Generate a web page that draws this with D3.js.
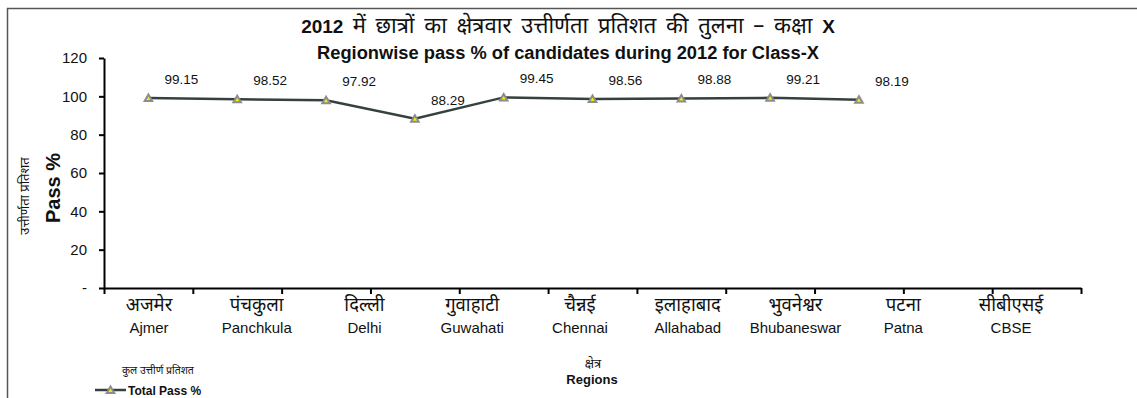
<!DOCTYPE html>
<html>
<head>
<meta charset="utf-8">
<script src="https://cdn.jsdelivr.net/npm/d3@7"></script>
<style>
  body { margin: 0; background: #fff; }
  svg text { font-family: Arial, "Liberation Sans", sans-serif; fill: #111; }
  .hi { font-family: "Noto Sans Devanagari", "Noto Serif Devanagari", "Lohit Devanagari", "FreeSerif", "Noto Sans", serif; }
</style>
</head>
<body>
<div id="plot"></div>
<script>
// region names, hindi and english
const regionsHi = ['अजमेर', 'पंचकुला', 'दिल्ली', 'गुवाहाटी', 'चैन्नई', 'इलाहाबाद', 'भुवनेश्वर', 'पटना', 'सीबीएसई'];
const regionsEn = ['Ajmer', 'Panchkula', 'Delhi', 'Guwahati', 'Chennai', 'Allahabad', 'Bhubaneswar', 'Patna', 'CBSE'];
// total pass % per region
const passPct = [99.15, 98.52, 97.92, 88.29, 99.45, 98.56, 98.88, 99.21, 98.19];
const yTicks = [0, 20, 40, 60, 80, 100, 120];
// the category axis of the original has 11 slots, the last two empty
const slotCount = 11;

const width = 1137, height = 398;

let svg = d3.select('#plot').append('svg')
    .attr('width', width)
    .attr('height', height);

// outer frame
svg.append('rect')
    .attr('x', 7.5).attr('y', 8.5)
    .attr('width', 1140).attr('height', 400)
    .attr('fill', 'none')
    .attr('stroke', '#555')
    .attr('stroke-width', 1.5);

// scales
let x = d3.scaleBand()
    .domain(d3.range(slotCount))
    .range([104, 1081]);
let y = d3.scaleLinear()
    .domain([0, 120])
    .range([288, 58]);
// the region labels sit on their own spacing
let xLab = d3.scalePoint()
    .domain(regionsEn)
    .range([149, 1011]);

// y axis
let yAxis = d3.axisLeft(y)
    .tickValues(yTicks)
    .tickSize(5)
    .tickSizeOuter(0)
    .tickPadding(12)
    .tickFormat(d => d === 0 ? '-' : d);
let gy = svg.append('g')
    .attr('transform', 'translate(104,0)')
    .call(yAxis);
gy.select('.domain').attr('stroke', '#000').attr('stroke-width', 2);
gy.selectAll('.tick line').attr('stroke', '#000').attr('stroke-width', 2);
gy.selectAll('.tick text').attr('font-size', 15).attr('fill', '#111')
    .attr('font-family', 'Arial, "Liberation Sans", sans-serif');

// x axis: ticks at the slot edges, no tick text
let xAxis = d3.axisBottom(d3.scaleLinear().domain([0, slotCount]).range([104, 1081]))
    .tickValues(d3.range(slotCount + 1))
    .tickSize(6)
    .tickSizeOuter(0)
    .tickFormat('');
let gx = svg.append('g')
    .attr('transform', 'translate(0,288)')
    .call(xAxis);
gx.select('.domain').attr('stroke', '#000').attr('stroke-width', 2);
gx.selectAll('.tick line').attr('stroke', '#000').attr('stroke-width', 2);

// region labels, two lines
let lab = svg.append('g').selectAll('g')
    .data(regionsEn)
    .enter().append('g')
    .attr('transform', d => `translate(${xLab(d)},0)`);
lab.append('text')
    .attr('class', 'hi')
    .attr('y', 311)
    .attr('text-anchor', 'middle')
    .attr('font-size', 18.5)
    .text((d, i) => regionsHi[i]);
lab.append('text')
    .attr('y', 333)
    .attr('text-anchor', 'middle')
    .attr('font-size', 15)
    .text(d => d);

// the line
let data = passPct.map((v, i) => ({ i: i, v: v }));
let cx = d => x(d.i) + x.bandwidth() / 2;
let line = d3.line()
    .x(cx)
    .y(d => y(d.v));
svg.append('path')
    .datum(data)
    .attr('d', line)
    .attr('fill', 'none')
    .attr('stroke', '#354040')
    .attr('stroke-width', 2.5);

// triangle markers, grey with a yellow centre
function marker(g) {
    g.append('path')
        .attr('d', 'M0,-5.5L5.5,4L-5.5,4Z')
        .attr('fill', '#8c8c8c');
    g.append('path')
        .attr('d', 'M0,-1.5L2,2L-2,2Z')
        .attr('fill', '#f0f000');
}
svg.append('g').selectAll('g')
    .data(data)
    .enter().append('g')
    .attr('transform', d => `translate(${cx(d)},${y(d.v)})`)
    .call(marker);

// value labels
svg.append('g').selectAll('text')
    .data(data)
    .enter().append('text')
    .attr('x', d => cx(d) + 33)
    .attr('y', d => y(d.v) - 14)
    .attr('text-anchor', 'middle')
    .attr('font-size', 13.5)
    .text(d => d.v.toFixed(2));

// titles
let t1 = svg.append('text')
    .attr('x', 568).attr('y', 33)
    .attr('text-anchor', 'middle')
    .attr('font-size', 22)
    .attr('word-spacing', 4);
t1.append('tspan').attr('font-weight', 'bold').attr('font-size', 19).text('2012 ');
t1.append('tspan').attr('class', 'hi').text('में छात्रों का क्षेत्रवार उत्तीर्णता प्रतिशत की तुलना – कक्षा ');
t1.append('tspan').attr('font-weight', 'bold').attr('font-size', 19).text('X');
svg.append('text')
    .attr('x', 568).attr('y', 59)
    .attr('text-anchor', 'middle')
    .attr('font-size', 18.3)
    .attr('font-weight', 'bold')
    .text('Regionwise pass % of candidates during 2012 for Class-X');

// y axis titles
svg.append('text')
    .attr('class', 'hi')
    .attr('transform', 'translate(29,196) rotate(-90)')
    .attr('text-anchor', 'middle')
    .attr('font-size', 13)
    .text('उत्तीर्णता प्रतिशत');
svg.append('text')
    .attr('transform', 'translate(60,188) rotate(-90)')
    .attr('text-anchor', 'middle')
    .attr('font-size', 20)
    .attr('font-weight', 'bold')
    .text('Pass %');

// x axis titles
svg.append('text')
    .attr('class', 'hi')
    .attr('x', 593).attr('y', 368)
    .attr('text-anchor', 'middle')
    .attr('font-size', 13)
    .text('क्षेत्र');
svg.append('text')
    .attr('x', 592).attr('y', 384)
    .attr('text-anchor', 'middle')
    .attr('font-size', 13)
    .attr('font-weight', 'bold')
    .text('Regions');

// legend
svg.append('text')
    .attr('class', 'hi')
    .attr('x', 122).attr('y', 374)
    .attr('font-size', 10.5)
    .text('कुल उत्तीर्ण प्रतिशत');
let lg = svg.append('g').attr('transform', 'translate(95,390)');
lg.append('line')
    .attr('x1', 0).attr('x2', 31)
    .attr('stroke', '#354040')
    .attr('stroke-width', 2.5);
lg.append('g').attr('transform', 'translate(15.5,0)').call(marker);
lg.append('text')
    .attr('x', 33).attr('y', 4.5)
    .attr('font-size', 12)
    .attr('font-weight', 'bold')
    .text('Total Pass %');
</script>
</body>
</html>
